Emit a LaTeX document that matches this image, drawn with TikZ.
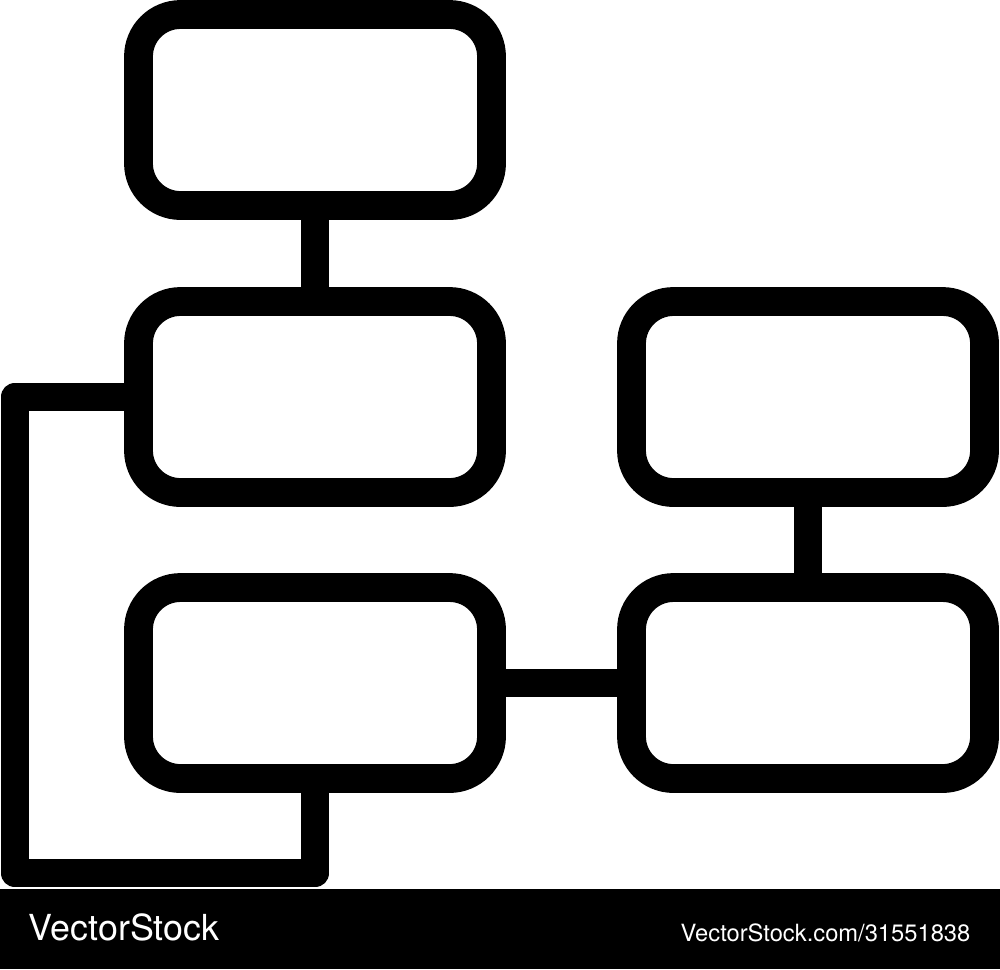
\documentclass[tikz,border=0pt]{standalone}
\usepackage{fontspec}
\setmainfont{TeX Gyre Heros}

\begin{document}
\begin{tikzpicture}[
    box/.style={draw,line width=8.2pt,rounded corners=0.42cm,minimum width=3.53cm,minimum height=1.91cm,outer sep=0pt,inner sep=0pt},
    link/.style={line width=8.2pt,line join=round}
]
    \useasboundingbox (0,0) rectangle (10,-9.69);

    % Draw boxes
    \node[box] (top) at (3.15,-1.10) {};
    \node[box] (midleft) at (3.15,-3.97) {};
    \node[box] (lowleft) at (3.15,-6.83) {};
    \node[box] (midright) at (8.08,-3.97) {};
    \node[box] (lowright) at (8.08,-6.83) {};

    % Draw links
    \draw[link] (top.south) -- (midleft.north);
    \draw[link] (midright.south) -- (lowright.north);
    \draw[link] (lowleft.east) -- (lowright.west);
    % bracket on the left
    \coordinate (corner) at (0.15,-8.73);
    \draw[link] (midleft.west) -| (corner) -| (lowleft.south);

    % Draw banner
    \fill[black] (0,-8.89) rectangle (10,-9.69);
    \node[white,anchor=base west,inner sep=0pt,font=\fontsize{10.2}{12}\selectfont] (brand) at (0.28,-9.40) {VectorStock};
    \node[white,anchor=base east,inner sep=0pt,font=\fontsize{6.75}{8}\selectfont] (ref) at (9.71,-9.41) {VectorStock.com/31551838};
\end{tikzpicture}
\end{document}
